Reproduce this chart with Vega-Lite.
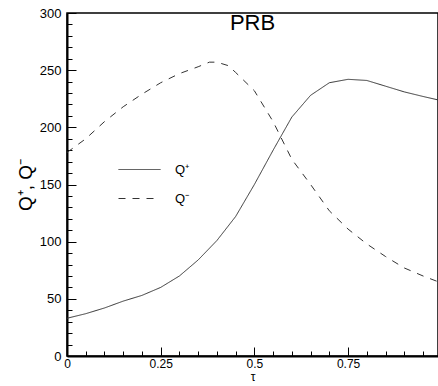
{
  "$schema": "https://vega.github.io/schema/vega-lite/v6.json",
  "width": 371,
  "height": 343,
  "autosize": "none",
  "padding": {"left": 67, "top": 13, "right": 0, "bottom": 30},
  "background": "white",
  "config": {
    "font": "Liberation Sans",
    "view": {"stroke": "black", "strokeWidth": 1.5}
  },
  "title": {"text": "PRB", "offset": -28, "dx": 0, "fontSize": 22, "fontWeight": "normal", "font": "Liberation Sans", "color": "black"},
  "data": {"values": [
    {"t": 0, "q": 33, "s": "Q⁺"},
    {"t": 0.05, "q": 37, "s": "Q⁺"},
    {"t": 0.1, "q": 42, "s": "Q⁺"},
    {"t": 0.15, "q": 48, "s": "Q⁺"},
    {"t": 0.2, "q": 53, "s": "Q⁺"},
    {"t": 0.25, "q": 60, "s": "Q⁺"},
    {"t": 0.3, "q": 70, "s": "Q⁺"},
    {"t": 0.35, "q": 84, "s": "Q⁺"},
    {"t": 0.4, "q": 101, "s": "Q⁺"},
    {"t": 0.45, "q": 122, "s": "Q⁺"},
    {"t": 0.5, "q": 150, "s": "Q⁺"},
    {"t": 0.55, "q": 180, "s": "Q⁺"},
    {"t": 0.6, "q": 209, "s": "Q⁺"},
    {"t": 0.65, "q": 228, "s": "Q⁺"},
    {"t": 0.7, "q": 239, "s": "Q⁺"},
    {"t": 0.75, "q": 242, "s": "Q⁺"},
    {"t": 0.8, "q": 241, "s": "Q⁺"},
    {"t": 0.85, "q": 236, "s": "Q⁺"},
    {"t": 0.9, "q": 231, "s": "Q⁺"},
    {"t": 0.95, "q": 227, "s": "Q⁺"},
    {"t": 0.99, "q": 224, "s": "Q⁺"},
    {"t": 0, "q": 178, "s": "Q⁻"},
    {"t": 0.05, "q": 190, "s": "Q⁻"},
    {"t": 0.1, "q": 205, "s": "Q⁻"},
    {"t": 0.15, "q": 218, "s": "Q⁻"},
    {"t": 0.2, "q": 229, "s": "Q⁻"},
    {"t": 0.25, "q": 239, "s": "Q⁻"},
    {"t": 0.3, "q": 247, "s": "Q⁻"},
    {"t": 0.35, "q": 253, "s": "Q⁻"},
    {"t": 0.38, "q": 257, "s": "Q⁻"},
    {"t": 0.4, "q": 257, "s": "Q⁻"},
    {"t": 0.43, "q": 254, "s": "Q⁻"},
    {"t": 0.45, "q": 248, "s": "Q⁻"},
    {"t": 0.5, "q": 232, "s": "Q⁻"},
    {"t": 0.55, "q": 205, "s": "Q⁻"},
    {"t": 0.6, "q": 172, "s": "Q⁻"},
    {"t": 0.65, "q": 150, "s": "Q⁻"},
    {"t": 0.7, "q": 127, "s": "Q⁻"},
    {"t": 0.75, "q": 111, "s": "Q⁻"},
    {"t": 0.8, "q": 98, "s": "Q⁻"},
    {"t": 0.85, "q": 87, "s": "Q⁻"},
    {"t": 0.9, "q": 77, "s": "Q⁻"},
    {"t": 0.95, "q": 70, "s": "Q⁻"},
    {"t": 0.99, "q": 65, "s": "Q⁻"}
  ]},
  "resolve": {"axis": {"x": "independent", "y": "independent"}},
  "layer": [
    {
      "mark": {"type": "line", "strokeWidth": 1, "color": "#333333", "clip": true},
      "encoding": {
        "x": {
          "field": "t", "type": "quantitative",
          "scale": {"domain": [0, 0.99], "nice": false, "zero": false},
          "axis": {
            "orient": "bottom",
            "title": "τ", "titleFontSize": 12, "titleFontWeight": "normal", "titleColor": "black", "titlePadding": 2,
            "values": [0, 0.25, 0.5, 0.75],
            "labelExpr": "format(datum.value, '.4~')",
            "ticks": false,
            "domainColor": "black", "domainWidth": 2,
            "labelFontSize": 12, "labelColor": "black", "labelPadding": 2, "grid": false, "labelFlush": false
          }
        },
        "y": {
          "field": "q", "type": "quantitative",
          "scale": {"domain": [0, 300], "nice": false},
          "axis": {
            "orient": "left",
            "title": "Q⁺, Q⁻", "titleFontSize": 19, "titleFontWeight": "normal", "titleColor": "black", "titlePadding": 4,
            "values": [0, 50, 100, 150, 200, 250, 300],
            "format": "d",
            "ticks": false,
            "domainColor": "black", "domainWidth": 2,
            "labelFontSize": 13, "labelColor": "black", "labelPadding": 6, "grid": false
          }
        },
        "strokeDash": {
          "field": "s", "type": "nominal",
          "scale": {"domain": ["Q⁺", "Q⁻"], "range": [[1, 0], [7, 7]]},
          "legend": {
            "title": null, "orient": "none", "legendX": 51, "legendY": 135,
            "symbolType": "stroke", "symbolSize": 1764, "symbolStrokeWidth": 1, "symbolStrokeColor": "#333333",
            "rowPadding": -15, "labelFontSize": 13, "labelColor": "black", "labelOffset": 14
          }
        }
      }
    },
    {
      "mark": {"type": "line", "strokeOpacity": 0, "clip": true},
      "encoding": {
        "x": {
          "field": "t", "type": "quantitative",
          "scale": {"domain": [0, 0.99], "nice": false, "zero": false},
          "axis": {
            "orient": "top", "offset": -343, "title": null, "labels": false, "domain": false,
            "values": [0, 0.05, 0.1, 0.15, 0.2, 0.25, 0.3, 0.35, 0.4, 0.45, 0.5, 0.55, 0.6, 0.65, 0.7, 0.75, 0.8, 0.85, 0.9, 0.95],
            "tickSize": {"condition": {"test": "abs(datum.value*4 - round(datum.value*4)) < 0.001", "value": 9}, "value": 5},
            "tickColor": "black", "grid": false
          }
        },
        "y": {
          "field": "q", "type": "quantitative",
          "scale": {"domain": [0, 300], "nice": false},
          "axis": {
            "orient": "right", "offset": -371, "title": null, "labels": false, "domain": false,
            "values": [0, 10, 20, 30, 40, 50, 60, 70, 80, 90, 100, 110, 120, 130, 140, 150, 160, 170, 180, 190, 200, 210, 220, 230, 240, 250, 260, 270, 280, 290, 300],
            "tickSize": {"condition": {"test": "datum.value % 50 === 0", "value": 9}, "value": 5},
            "tickColor": "black", "grid": false
          }
        },
        "detail": {"field": "s", "type": "nominal"}
      }
    }
  ]
}
